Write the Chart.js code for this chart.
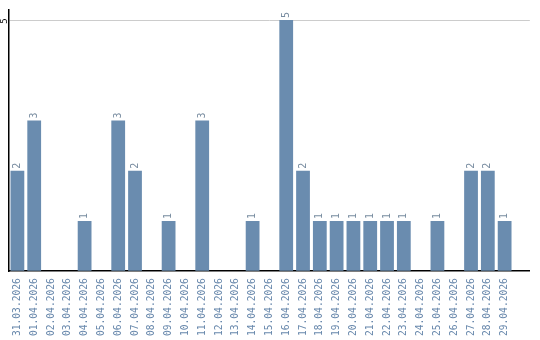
<!DOCTYPE html>
<html>
<head>
<meta charset="utf-8">
<script src="https://cdn.jsdelivr.net/npm/chart.js@4"></script>
<style>
  html, body { margin: 0; padding: 0; background: #fff; }
  #wrap { width: 540px; height: 340px; }
</style>
</head>
<body>
<div id="wrap"><canvas id="chart" width="540" height="340"></canvas></div>
<script>
// dates shown on the x axis (last one is an empty spacer slot)
const dates = [
  "31.03.2026", "01.04.2026", "02.04.2026", "03.04.2026", "04.04.2026",
  "05.04.2026", "06.04.2026", "07.04.2026", "08.04.2026", "09.04.2026",
  "10.04.2026", "11.04.2026", "12.04.2026", "13.04.2026", "14.04.2026",
  "15.04.2026", "16.04.2026", "17.04.2026", "18.04.2026", "19.04.2026",
  "20.04.2026", "21.04.2026", "22.04.2026", "23.04.2026", "24.04.2026",
  "25.04.2026", "26.04.2026", "27.04.2026", "28.04.2026", "29.04.2026",
  ""
];
const counts = [
  2, 3, 0, 0, 1, 0, 3, 2, 0, 1,
  0, 3, 0, 0, 1, 0, 5, 2, 1, 1,
  1, 1, 1, 1, 0, 1, 0, 2, 2, 1,
  null
];
const yTicks = [0, 5];

const barColor = "rgb(106, 140, 175)";
const labelColor = "rgb(104, 136, 172)";
const valueColor = "rgb(120, 140, 160)";
const monoFont = "'DejaVu Sans Mono', monospace";

// value labels above the bars, rotated to read bottom-up
const valueLabels = {
  id: "valueLabels",
  afterDatasetsDraw(chart) {
    const ctx = chart.ctx;
    const meta = chart.getDatasetMeta(0);
    ctx.save();
    ctx.font = "10px " + monoFont;
    ctx.fillStyle = valueColor;
    ctx.textAlign = "left";
    ctx.textBaseline = "middle";
    meta.data.forEach((bar, i) => {
      const v = counts[i];
      if (!v) return;
      ctx.save();
      ctx.translate(bar.x, bar.y - 2);
      ctx.rotate(-Math.PI / 2);
      ctx.fillText(String(v), 0, 0);
      ctx.restore();
    });
    ctx.restore();
  }
};

// the single rotated y tick label ("5")
const yTickLabel = {
  id: "yTickLabel",
  afterDraw(chart) {
    const ctx = chart.ctx;
    const y = chart.scales.y;
    ctx.save();
    ctx.font = "9px " + monoFont;
    ctx.fillStyle = "#000";
    ctx.textAlign = "center";
    ctx.textBaseline = "middle";
    yTicks.filter(t => t > 0).forEach(t => {
      ctx.save();
      ctx.translate(4.5, y.getPixelForValue(t) + 1);
      ctx.rotate(-Math.PI / 2);
      ctx.fillText(String(t), 0, 0);
      ctx.restore();
    });
    ctx.restore();
  }
};

new Chart(document.getElementById("chart"), {
  type: "bar",
  data: {
    labels: dates,
    datasets: [{
      data: counts,
      backgroundColor: barColor,
      borderWidth: 0,
      barPercentage: 0.82,
      categoryPercentage: 1
    }]
  },
  options: {
    responsive: false,
    animation: false,
    layout: { padding: { top: 10, right: 3, bottom: -3, left: 0 } },
    plugins: {
      legend: { display: false },
      tooltip: { enabled: false }
    },
    scales: {
      x: {
        grid: { display: false, drawTicks: false },
        border: { color: "#000", width: 1.5 },
        ticks: {
          minRotation: 90,
          maxRotation: 90,
          autoSkip: false,
          padding: 7,
          color: labelColor,
          font: { family: monoFont, size: 9.6 }
        }
      },
      y: {
        min: 0,
        max: 5.2,
        afterBuildTicks(scale) {
          scale.ticks = yTicks.map(v => ({ value: v }));
        },
        afterFit(scale) {
          scale.width = 9;
        },
        grid: {
          drawTicks: false,
          color: c => (c.tick && c.tick.value === 5 ? "#cccccc" : "rgba(0,0,0,0)")
        },
        border: { color: "#000", width: 1.5 },
        ticks: { display: false }
      }
    }
  },
  plugins: [valueLabels, yTickLabel]
});
</script>
</body>
</html>
